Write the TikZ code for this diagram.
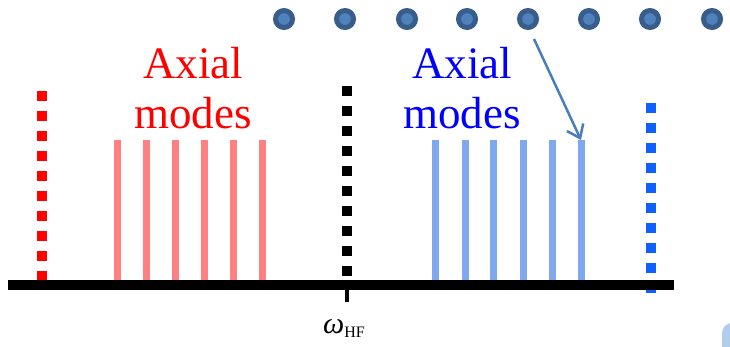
\documentclass[tikz,border=0pt]{standalone}
\usepackage{fontspec}
\setmainfont{Liberation Serif}
\usetikzlibrary{arrows.meta}
\definecolor{dotouter}{HTML}{385D8A}
\definecolor{dotinner}{HTML}{4F81BD}
\definecolor{redbar}{HTML}{FF8080}
\definecolor{bluebar}{HTML}{80A8EE}
\definecolor{bluedash}{HTML}{1060FF}
\definecolor{arrowblue}{HTML}{4A7EBB}
\definecolor{blob}{HTML}{B4CCEB}
\tikzset{
  atom/.style={circle,fill=dotinner,draw=dotouter,line width=5pt,minimum size=17pt,inner sep=0pt},
  modebar/.style={line width=7pt},
  dotline/.style={line width=10pt,dash pattern=on 10pt off 10pt},
  label/.style={font=\fontsize{45}{50}\selectfont,align=center,inner sep=0pt}
}
\begin{document}
\begin{tikzpicture}[x=1pt,y=-1pt]
\useasboundingbox (0,0) rectangle (730,346);
\begin{scope}
\clip (0,0) rectangle (730,346);
\fill[blob,rounded corners=10pt] (722,323) rectangle (760,380);
\end{scope}
% atoms
\foreach \x [count=\i] in {284,345,407,467,528,589,650,712}
  \node[atom] (a\i) at (\x,19) {};
% dotted lines
\draw[dotline,red] (42,91) -- (42,281);
\draw[dotline,black] (347,86) -- (347,276);
\draw[dotline,bluedash] (651,103) -- (651,293);
% mode bars
\foreach \x [count=\i] in {117,146,175,204,233,262}
  \draw[modebar,redbar] (\x,280) -- (\x,140) coordinate (r\i);
\foreach \x [count=\i] in {435,465,493,523,552,581}
  \draw[modebar,bluebar] (\x,280) -- (\x,140) coordinate (b\i);
% baseline and tick
\coordinate (bl) at (8,285);
\coordinate (br) at (674,285);
\draw[line width=10pt] (bl) -- (br);
\coordinate (t0) at (347,290);
\coordinate (t1) at (347,302);
\draw[line width=3.5pt] (t0) -- (t1);
\node[anchor=base,inner sep=0pt] (whf) at (344,333)
  {{\fontsize{30}{32}\selectfont\itshape ω}\raisebox{-4pt}{\fontsize{16}{18}\selectfont HF}};
% labels
\node[label,red] (lr) at (193,88) {Axial\\modes};
\node[label,blue] (lb) at (462,88) {Axial\\modes};
% arrow
\coordinate (as) at (534,39);
\draw[arrowblue,line width=2.5pt,-{Straight Barb[length=12pt,width=18pt,line width=2.5pt]}] (as) -- (b6);
\end{tikzpicture}
\end{document}
